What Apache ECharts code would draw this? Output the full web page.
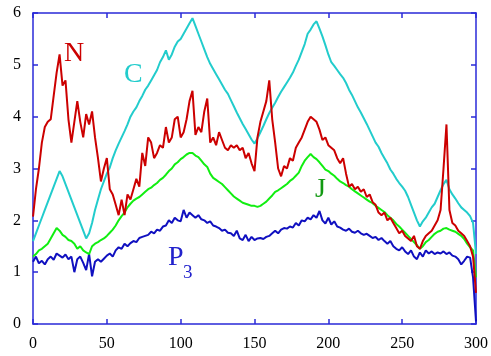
<!DOCTYPE html>
<html>
<head>
<meta charset="utf-8">
<script src="https://cdn.jsdelivr.net/npm/echarts@6/dist/echarts.min.js"></script>
<style>
html,body{margin:0;padding:0;background:#fff;}
#c{width:491px;height:356px;}
</style>
</head>
<body>
<div id="c"></div>
<script>
// sampling grid step along x (values at x = 0, 2, 4, ... 300)
var X_STEP = 2;
var xTicks = [0, 50, 100, 150, 200, 250, 300];
var yTicks = [0, 1, 2, 3, 4, 5, 6];

var seriesN = [
  2.07,2.6,3.0,3.5,3.8,3.9,3.95,4.4,4.85,5.2,
  4.6,4.7,3.95,3.5,3.9,4.3,3.9,3.6,4.05,3.85,
  4.1,3.6,3.2,2.75,3.0,3.2,2.6,2.5,2.3,2.1,
  2.4,2.1,2.5,2.4,2.6,2.8,2.65,3.3,3.05,3.6,
  3.5,3.2,3.3,3.45,3.4,3.8,3.5,3.6,3.95,4.0,
  3.6,3.7,3.95,4.3,4.5,3.65,3.8,3.7,4.1,4.35,
  3.5,3.6,3.45,3.7,3.55,3.4,3.35,3.45,3.4,3.45,
  3.35,3.4,3.2,3.3,3.1,2.95,3.6,3.9,4.1,4.3,
  4.7,3.95,3.5,3.0,2.85,3.05,3.0,3.2,3.15,3.4,
  3.5,3.6,3.75,3.9,4.0,3.95,3.9,3.75,3.55,3.6,
  3.45,3.4,3.35,3.2,3.1,3.2,2.9,2.65,2.7,2.6,
  2.65,2.55,2.6,2.45,2.5,2.35,2.3,2.15,2.1,2.15,
  2.0,2.05,1.95,1.85,1.75,1.8,1.7,1.65,1.6,1.7,
  1.5,1.45,1.6,1.7,1.75,1.8,1.9,2.0,2.2,3.0,
  3.85,2.2,1.95,1.9,1.8,1.75,1.7,1.6,1.5,1.3,
  0.6
];
var seriesC = [
  1.6,1.75,1.9,2.05,2.2,2.35,2.5,2.65,2.8,2.95,
  2.85,2.7,2.55,2.4,2.25,2.1,1.95,1.8,1.65,1.75,
  1.95,2.2,2.4,2.6,2.75,2.9,3.02,3.2,3.35,3.48,
  3.6,3.72,3.85,4.0,4.1,4.18,4.3,4.4,4.52,4.6,
  4.7,4.8,4.9,5.05,5.15,5.28,5.1,5.2,5.35,5.45,
  5.5,5.6,5.7,5.8,5.9,5.75,5.6,5.45,5.3,5.15,
  5.02,4.92,4.82,4.72,4.62,4.52,4.44,4.32,4.2,4.08,
  3.97,3.86,3.76,3.66,3.56,3.48,3.58,3.7,3.82,3.95,
  4.07,4.17,4.27,4.38,4.48,4.57,4.66,4.75,4.85,4.98,
  5.1,5.25,5.4,5.6,5.68,5.78,5.84,5.7,5.55,5.38,
  5.2,5.05,4.98,4.9,4.82,4.75,4.65,4.52,4.42,4.3,
  4.18,4.08,3.97,3.86,3.74,3.62,3.5,3.42,3.3,3.2,
  3.1,2.98,2.9,2.8,2.72,2.65,2.57,2.45,2.3,2.15,
  2.0,1.88,1.98,2.05,2.15,2.25,2.32,2.45,2.58,2.7,
  2.78,2.6,2.5,2.42,2.33,2.25,2.2,2.15,2.08,1.95,
  1.35
];
var seriesJ = [
  1.3,1.35,1.42,1.45,1.5,1.55,1.65,1.75,1.85,1.8,
  1.72,1.68,1.62,1.6,1.55,1.45,1.5,1.42,1.38,1.35,
  1.5,1.55,1.58,1.62,1.65,1.7,1.76,1.82,1.9,2.0,
  2.08,2.15,2.25,2.32,2.38,2.42,2.45,2.5,2.55,2.6,
  2.63,2.68,2.72,2.78,2.82,2.88,2.95,3.0,3.08,3.12,
  3.18,3.22,3.27,3.3,3.3,3.25,3.22,3.15,3.08,3.03,
  2.9,2.82,2.78,2.74,2.7,2.64,2.58,2.52,2.46,2.42,
  2.38,2.34,2.32,2.3,2.28,2.28,2.26,2.28,2.32,2.36,
  2.42,2.48,2.55,2.58,2.62,2.66,2.7,2.76,2.8,2.86,
  2.92,3.05,3.15,3.22,3.28,3.22,3.18,3.12,3.05,2.98,
  2.95,2.9,2.86,2.8,2.75,2.72,2.68,2.65,2.6,2.56,
  2.52,2.48,2.44,2.4,2.36,2.33,2.28,2.24,2.2,2.16,
  2.1,2.05,2.0,1.93,1.88,1.82,1.76,1.7,1.64,1.58,
  1.52,1.45,1.5,1.58,1.62,1.68,1.74,1.78,1.8,1.84,
  1.85,1.82,1.8,1.78,1.74,1.7,1.64,1.55,1.48,1.42,
  0.9
];
var seriesP3 = [
  1.2,1.3,1.17,1.22,1.15,1.25,1.3,1.24,1.36,1.32,
  1.28,1.34,1.25,1.3,1.0,1.25,1.3,1.18,1.04,1.35,
  0.92,1.2,1.25,1.2,1.26,1.32,1.36,1.3,1.42,1.48,
  1.45,1.55,1.5,1.56,1.6,1.58,1.66,1.68,1.7,1.72,
  1.78,1.75,1.82,1.8,1.88,1.9,2.0,1.95,2.05,2.0,
  1.98,2.2,2.05,2.15,2.1,2.05,2.1,2.02,2.0,1.95,
  1.98,1.9,1.88,1.85,1.8,1.82,1.76,1.75,1.7,1.8,
  1.65,1.62,1.72,1.6,1.68,1.62,1.65,1.66,1.64,1.68,
  1.7,1.75,1.8,1.75,1.82,1.85,1.84,1.88,1.86,1.95,
  1.9,2.0,1.98,2.05,2.02,2.1,2.05,2.18,2.0,1.94,
  2.05,1.92,1.98,1.88,1.86,1.82,1.8,1.84,1.78,1.76,
  1.8,1.75,1.72,1.74,1.7,1.66,1.68,1.62,1.66,1.6,
  1.55,1.6,1.5,1.45,1.42,1.48,1.4,1.35,1.42,1.3,
  1.25,1.38,1.3,1.42,1.36,1.4,1.35,1.38,1.36,1.4,
  1.35,1.38,1.32,1.3,1.25,1.15,1.22,1.3,1.28,0.9,
  0.05
];

function pairs(arr){ return arr.map(function(v,i){ return [i*X_STEP, v]; }); }

var FRAME = '#2a2ad8';
var SERIF = '"Liberation Serif", "DejaVu Serif", serif';

function xAx(pos, show){
  return {
    type:'value', position:pos, min:xTicks[0], max:xTicks[xTicks.length-1], interval:50,
    axisLine:{show:true, onZero:false, lineStyle:{color:FRAME, width:1.5}},
    axisTick:{show:true, inside:true, length:5, lineStyle:{color:FRAME, width:1.5}},
    axisLabel:{show:show, color:'#000', fontFamily:SERIF, fontSize:16, margin:12},
    splitLine:{show:false}
  };
}
function yAx(pos, show){
  return {
    type:'value', position:pos, min:yTicks[0], max:yTicks[yTicks.length-1], interval:1,
    axisLine:{show:true, onZero:false, lineStyle:{color:FRAME, width:1.5}},
    axisTick:{show:true, inside:true, length:5, lineStyle:{color:FRAME, width:1.5}},
    axisLabel:{show:show, color:'#000', fontFamily:SERIF, fontSize:16, margin:12},
    splitLine:{show:false}
  };
}
function line(name, data, color){
  return {name:name, type:'line', data:pairs(data), showSymbol:false, symbol:'none',
    lineStyle:{color:color, width:2}, itemStyle:{color:color}, animation:false, silent:true};
}

var chart = echarts.init(document.getElementById('c'));
chart.setOption({
  animation:false,
  backgroundColor:'#fff',
  grid:{left:33, right:15, top:13, bottom:32},
  xAxis:[xAx('bottom', true), xAx('top', false)],
  yAxis:[yAx('left', true), yAx('right', false)],
  series:[
    line('C', seriesC, '#22cccc'),
    line('P3', seriesP3, '#1010c0'),
    line('J', seriesJ, '#11ee11'),
    line('N', seriesN, '#cc0000')
  ],
  graphic:[
    {type:'text', left:64, top:40, style:{text:'N', font:'28px '+SERIF, fill:'#cc0000'}},
    {type:'text', left:124, top:61, style:{text:'C', font:'28px '+SERIF, fill:'#22cccc'}},
    {type:'text', left:315, top:176, style:{text:'J', font:'28px '+SERIF, fill:'#119911'}},
    {type:'text', left:168, top:244, style:{text:'P', font:'28px '+SERIF, fill:'#2222cc'}},
    {type:'text', left:183, top:264, style:{text:'3', font:'19px '+SERIF, fill:'#2222cc'}}
  ]
});
</script>
</body>
</html>
